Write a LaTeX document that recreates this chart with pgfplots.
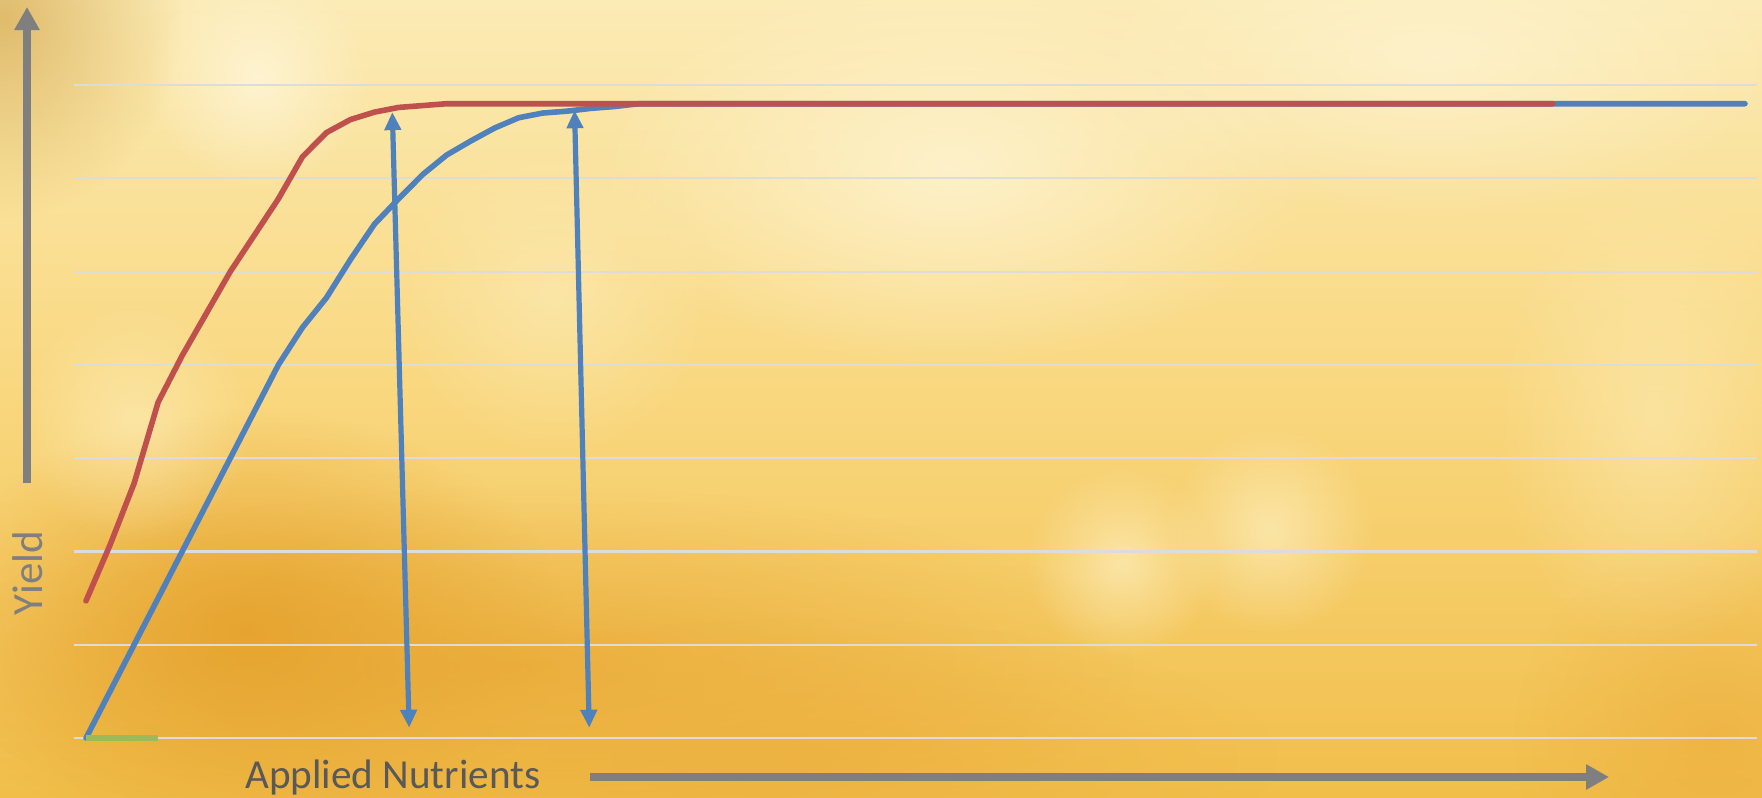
\documentclass[border=0pt]{standalone}
\usepackage{pgfplots}
\pgfplotsset{compat=1.18}
\usepackage{fontspec}
\setmainfont{Carlito}
\usetikzlibrary{arrows.meta,fadings}
\definecolor{cred}{HTML}{C0504D}
\definecolor{cblue}{HTML}{4F81BD}
\definecolor{cgreen}{HTML}{9BBB59}
\definecolor{cgrid}{HTML}{DCDCDC}
\definecolor{axgray}{HTML}{7F7F7F}
\definecolor{txtgray}{HTML}{595959}
\definecolor{bgtop}{HTML}{FBEBB5}
\definecolor{bgmid}{HTML}{F9D77E}
\definecolor{bgbot}{HTML}{F1BE4A}
\definecolor{borange}{HTML}{E5A02A}
\definecolor{borange2}{HTML}{EDB040}
\definecolor{bcream}{HTML}{FFF5D5}
\definecolor{btan}{HTML}{D9B05A}
\definecolor{blight}{HTML}{FDEFC0}
\tikzfading[name=softblob, inner color=transparent!0, outer color=transparent!100]
\begin{document}
\begin{tikzpicture}
\path[use as bounding box] (-18.5pt,-14.75pt) rectangle (422pt,184.5pt);
\begin{scope}
\clip (-18.5pt,-14.75pt) rectangle (422pt,184.5pt);
\shade[top color=bgtop, bottom color=bgbot, middle color=bgmid]
  (-18.5pt,-14.75pt) rectangle (422pt,184.5pt);
\fill[borange, opacity=0.85, path fading=softblob] (43pt,27pt) ellipse (80pt and 55pt);
\fill[borange, opacity=0.6, path fading=softblob] (115pt,18pt) ellipse (150pt and 45pt);
\fill[borange2, opacity=0.7, path fading=softblob] (181pt,-5pt) ellipse (120pt and 35pt);
\fill[borange2, opacity=0.7, path fading=softblob] (410pt,0pt) ellipse (50pt and 50pt);
\fill[btan, opacity=0.8, path fading=softblob] (-18pt,180pt) ellipse (45pt and 50pt);
\fill[bcream, opacity=0.9, path fading=softblob] (46pt,165pt) circle (28pt);
\fill[bcream, opacity=0.8, path fading=softblob] (219pt,142pt) ellipse (90pt and 50pt);
\fill[bcream, opacity=0.7, path fading=softblob] (340pt,170pt) ellipse (90pt and 40pt);
\fill[blight, opacity=0.7, path fading=softblob] (262pt,44pt) circle (24pt);
\fill[blight, opacity=0.7, path fading=softblob] (299pt,52pt) circle (26pt);
\fill[blight, opacity=0.6, path fading=softblob] (15pt,79pt) circle (30pt);
\fill[blight, opacity=0.5, path fading=softblob] (120pt,110pt) circle (40pt);
\fill[blight, opacity=0.5, path fading=softblob] (395pt,80pt) ellipse (40pt and 60pt);
\end{scope}
\begin{axis}[
  at={(0pt,0pt)}, anchor=south west,
  scale only axis, width=420.75pt, height=163.25pt,
  xmin=-0.5, xmax=69.5, ymin=0, ymax=7,
  axis line style={draw=none}, tick style={draw=none},
  xtick=\empty, ytick={0,1,2,3,4,5,6,7}, yticklabels={},
  ymajorgrids, grid style={cgrid, line width=0.55pt},
  clip=false,
]
\addplot[cblue, line width=1.4pt, line cap=round, line join=round] coordinates {
(0,0) (1,0.5) (2,1.0) (3,1.5) (4,2.0) (5,2.5) (6,3.0) (7,3.5) (8,4.0)
(9,4.40) (10,4.72) (11,5.13) (12,5.51) (13,5.78) (14,6.04) (15,6.25)
(16,6.40) (17,6.54) (18,6.65) (19,6.70) (20,6.72) (21,6.75) (22,6.77)
(23,6.80) (69,6.80)
};
\addplot[cred, line width=1.4pt, line cap=round, line join=round] coordinates {
(0,1.47) (1,2.07) (2,2.73) (3,3.60) (4,4.10) (5,4.55) (6,5.00) (7,5.39)
(8,5.78) (9,6.23) (10,6.49) (11,6.63) (12,6.71) (13,6.76) (14,6.78)
(15,6.80) (61,6.80)
};
\addplot[cgreen, line width=1.4pt] coordinates {(0,0) (3,0)};
\addplot[cblue, line width=1.3pt, {Triangle[width=4pt,length=4.5pt]}-{Triangle[width=4pt,length=4.5pt]}]
  coordinates {(12.74,6.71) (13.44,0.11)};
\addplot[cblue, line width=1.3pt, {Triangle[width=4pt,length=4.5pt]}-{Triangle[width=4pt,length=4.5pt]}]
  coordinates {(20.32,6.73) (20.93,0.11)};
\end{axis}
\draw[axgray, line width=2pt, -{Triangle[width=6pt,length=5.75pt]}] (-11.75pt,63.75pt) -- (-11.75pt,182.75pt);
\draw[axgray, line width=2pt, -{Triangle[width=6pt,length=5.75pt]}] (129pt,-9.75pt) -- (383.75pt,-9.75pt);
\node[rotate=90, text=axgray, font=\fontsize{10.75pt}{12pt}\selectfont, inner sep=0pt] at (-11.5pt,41.25pt) {Yield};
\node[anchor=base, text=txtgray, font=\fontsize{10.3pt}{12pt}\selectfont, inner sep=0pt] at (79.7pt,-12.5pt) {Applied Nutrients};
\end{tikzpicture}
\end{document}
